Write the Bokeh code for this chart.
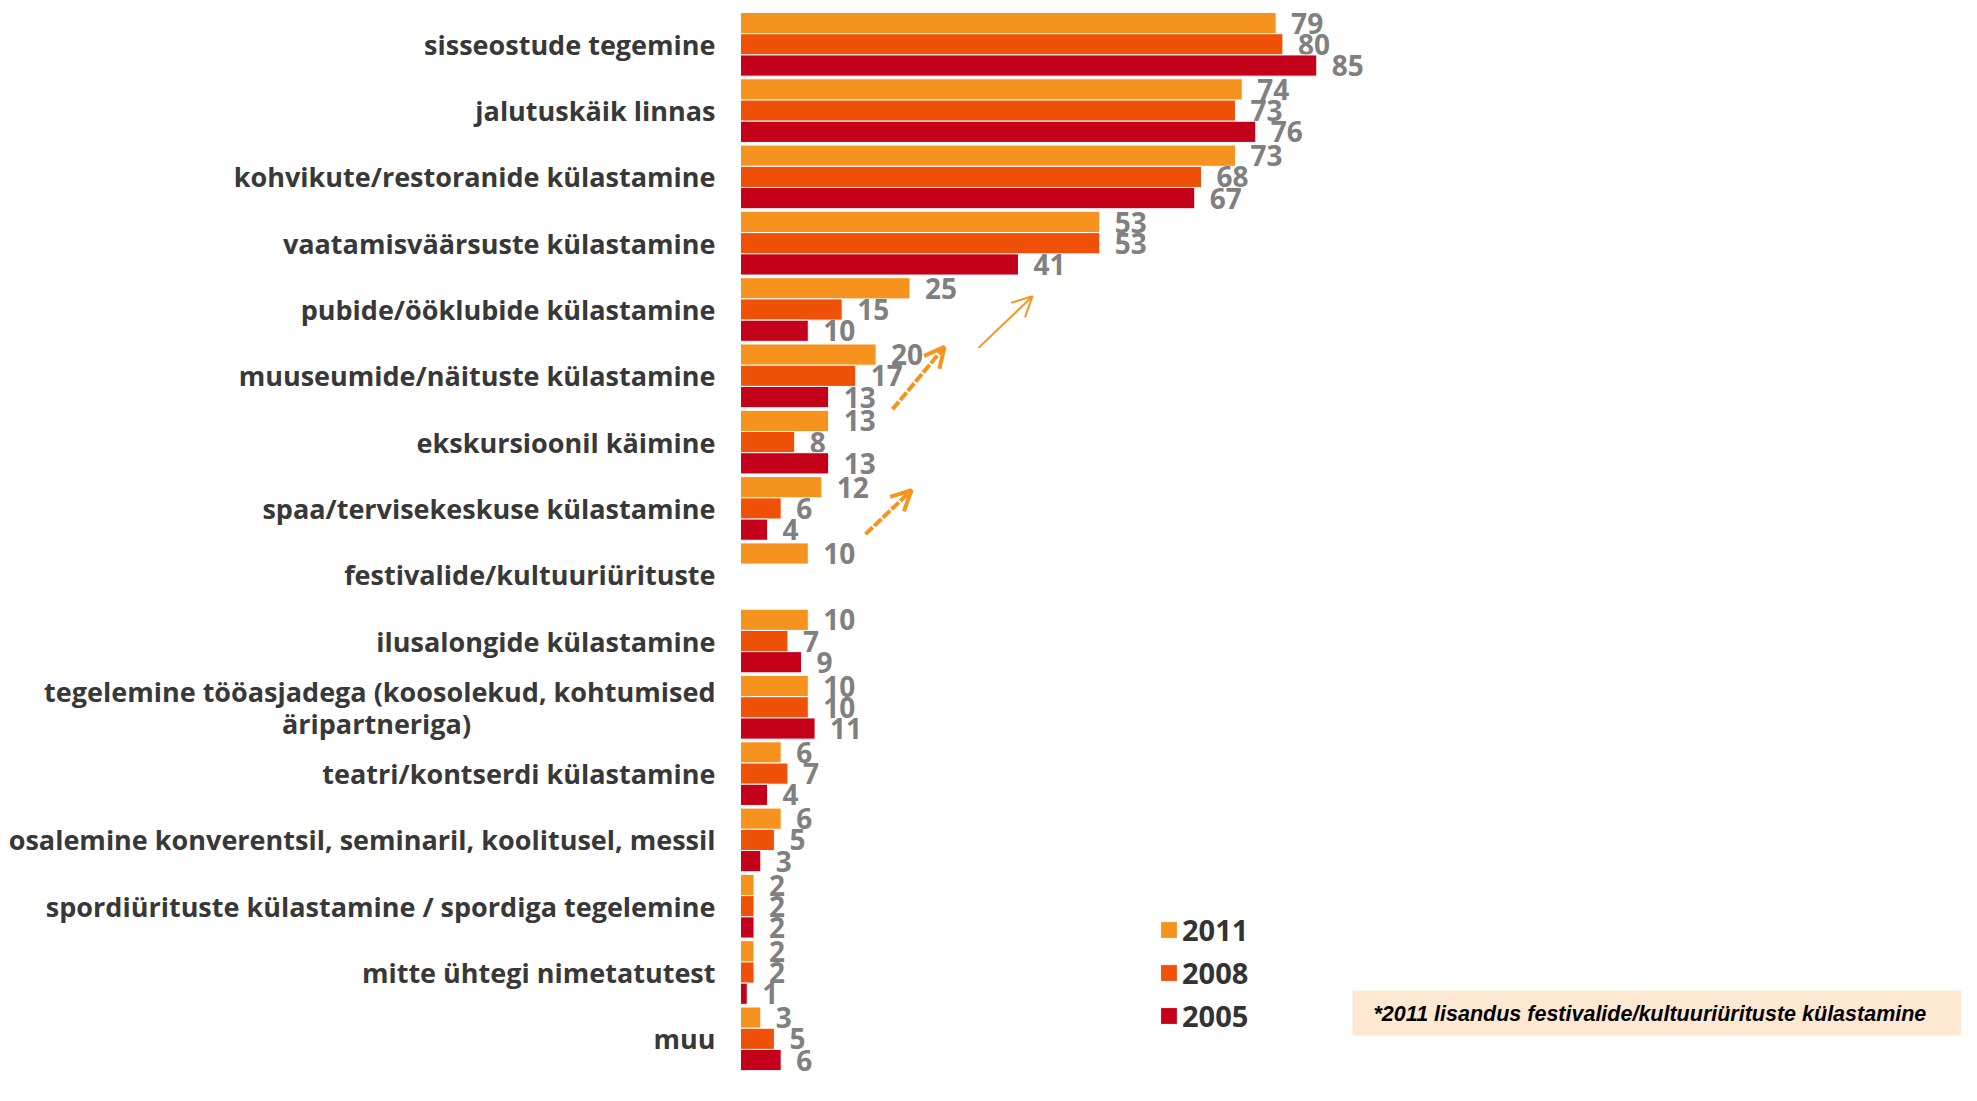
import numpy as np
from bokeh.plotting import figure
from bokeh.models import (Range1d, ColumnDataSource, Legend, LegendItem, Arrow,
                          OpenHead, BoxAnnotation)
from bokeh.core.properties import value
from bokeh.embed import file_html
from bokeh.resources import INLINE

# ---------------- data ----------------
categories = [
    "sisseostude tegemine",
    "jalutuskäik linnas",
    "kohvikute/restoranide külastamine",
    "vaatamisväärsuste külastamine",
    "pubide/ööklubide külastamine",
    "muuseumide/näituste külastamine",
    "ekskursioonil käimine",
    "spaa/tervisekeskuse külastamine",
    "festivalide/kultuuriürituste",
    "ilusalongide külastamine",
    "tegelemine tööasjadega (koosolekud, kohtumised\näripartneriga)",
    "teatri/kontserdi külastamine",
    "osalemine konverentsil, seminaril, koolitusel, messil",
    "spordiürituste külastamine / spordiga tegelemine",
    "mitte ühtegi nimetatutest",
    "muu",
]
years = ["2011", "2008", "2005"]
v2011 = [79, 74, 73, 53, 25, 20, 13, 12, 10, 10, 10, 6, 6, 2, 2, 3]
v2008 = [80, 73, 68, 53, 15, 17, 8, 6, None, 7, 10, 7, 5, 2, 2, 5]
v2005 = [85, 76, 67, 41, 10, 13, 13, 4, None, 9, 11, 4, 3, 2, 1, 6]
note_text = "*2011 lisandus festivalide/kultuuriürituste külastamine"

# ---------------- styling ----------------
colors = {"2011": "#F6921E", "2008": "#EF5108", "2005": "#C4001A"}
arrow_color = "#F7941D"
FONT = value("Open Sans")

W, H = 1961, 1085
X0, KX = 740.0, 6.78      # px of value 0, px per unit
Y0, KY = 12.0, 66.3       # px of first group top, px per group


def X(px):
    return (px - X0) / KX


def Y(px):
    return (px - Y0) / KY


def Yg(px):
    # position relative to the bar groups (reference group pitch)
    return (px - 15.0) / 68.0


p = figure(width=W, height=H,
           x_range=Range1d(X(0), X(W)),
           y_range=Range1d(Y(H), Y(0)),
           output_backend="svg", toolbar_location=None,
           x_axis_location=None, y_axis_location=None,
           min_border=0, outline_line_color=None)
p.grid.visible = False
p.background_fill_color = "white"
p.border_fill_color = "white"

series = {"2011": v2011, "2008": v2008, "2005": v2005}
offsets = {"2011": 0.16, "2008": 0.48, "2005": 0.80}
renderers = {}
idx = np.arange(len(categories))
for yr in years:
    vals = series[yr]
    keep = [i for i, v in enumerate(vals) if v is not None]
    src = ColumnDataSource(dict(
        y=[idx[i] + offsets[yr] for i in keep],
        v=[vals[i] for i in keep],
        t=[str(vals[i]) for i in keep],
    ))
    renderers[yr] = p.hbar(y="y", left=0, right="v", height=0.32, source=src,
                           fill_color=colors[yr], line_color="white",
                           line_width=1)
    p.text(x="v", y="y", text="t", source=src, x_offset=15,
           text_align="left", text_baseline="middle",
           text_font=FONT, text_font_style="bold", text_font_size="28px",
           text_color="#808080")

# category labels
single = [(i, c) for i, c in enumerate(categories) if "\n" not in c]
lab_src = ColumnDataSource(dict(y=[i + 0.48 for i, _ in single],
                                t=[c for _, c in single]))
p.text(x=0, y="y", text="t", source=lab_src, x_offset=-25,
       text_align="right", text_baseline="middle", text_font=FONT,
       text_font_style="bold", text_font_size="27px", text_color="#383838")
for i, c in enumerate(categories):
    if "\n" in c:
        l1, l2 = c.split("\n")
        p.text(x=[0], y=[i + 0.48], text=[l1], x_offset=-25, y_offset=-16,
               text_align="right", text_baseline="middle", text_font=FONT,
               text_font_style="bold", text_font_size="27px",
               text_color="#383838")
        p.text(x=[0], y=[i + 0.48], text=[l2], x_offset=-364, y_offset=16,
               text_align="center", text_baseline="middle", text_font=FONT,
               text_font_style="bold", text_font_size="27px",
               text_color="#383838")

# arrows (placed relative to the bar groups)
p.add_layout(Arrow(x_start=X(978), y_start=Yg(359), x_end=X(1032), y_end=Yg(306),
                   line_color=arrow_color, line_width=2,
                   end=OpenHead(size=20, line_color=arrow_color, line_width=2)))
p.add_layout(Arrow(x_start=X(892), y_start=Yg(422), x_end=X(944), y_end=Yg(358),
                   line_color=arrow_color, line_width=4, line_dash="10 2",
                   end=OpenHead(size=20, line_color=arrow_color, line_width=4)))
p.add_layout(Arrow(x_start=X(865), y_start=Yg(550), x_end=X(911), y_end=Yg(505),
                   line_color=arrow_color, line_width=4, line_dash="10 2",
                   end=OpenHead(size=20, line_color=arrow_color, line_width=4)))

# note box
p.add_layout(BoxAnnotation(left=X(1352), right=X(1985), top=Y(990),
                           bottom=Y(1035), fill_color="#FDE8D2", fill_alpha=1,
                           line_color=None, level="underlay"))
p.text(x=[X(1373)], y=[Y(1013)], text=[note_text], text_align="left",
       text_baseline="middle", text_font=value("Liberation Sans"),
       text_font_style="bold italic", text_font_size="21.5px",
       text_color="black")

# legend
legend = Legend(items=[LegendItem(label=yr, renderers=[renderers[yr]])
                       for yr in years],
                location=(1158, 50), orientation="vertical",
                glyph_width=21, glyph_height=21, label_standoff=3,
                label_text_font="Open Sans", label_text_font_style="bold",
                label_text_font_size="29px", label_text_color="#333333",
                label_text_baseline="middle",
                spacing=4, padding=0, margin=0, border_line_alpha=0,
                background_fill_alpha=0)
p.add_layout(legend)

open("out.html", "w").write(file_html(p, INLINE))
